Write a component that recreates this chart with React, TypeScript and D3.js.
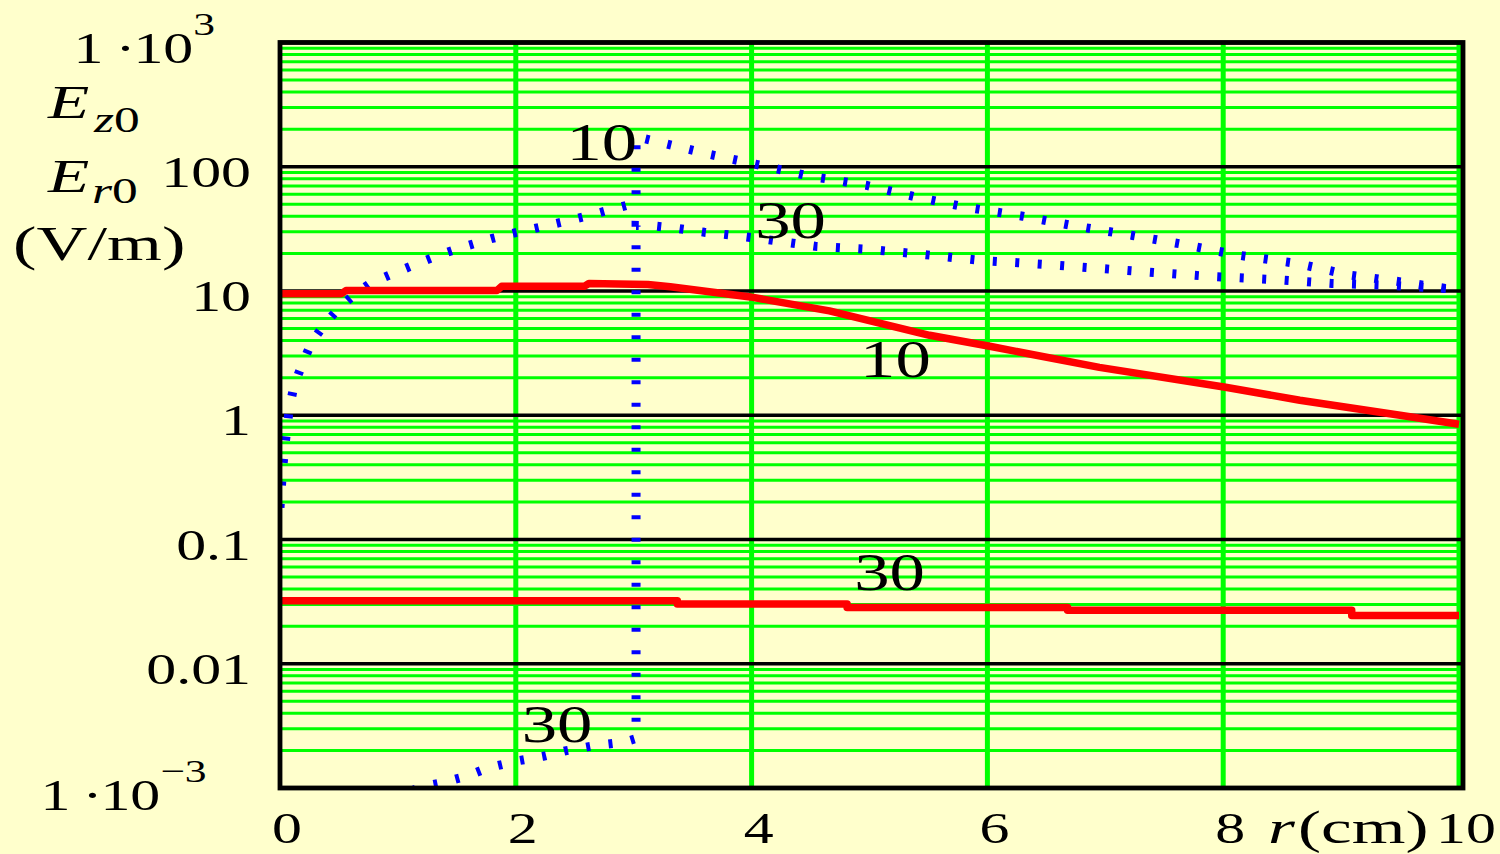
import React from "react";
import * as d3 from "d3";

const W = 1500;
const H = 854;

// Field amplitude (V/m) versus radius r (cm)
// dotted curves, case 10 and case 30
const dotted10: [number, number][] = [
  [0, 0.18], [0.02, 0.35], [0.04, 0.55], [0.06, 0.8], [0.08, 1.15], [0.12, 1.75],
  [0.19, 2.6], [0.27, 3.9], [0.39, 5.6], [0.52, 7.6], [0.645, 9.6], [0.77, 11.6],
  [0.98, 14.1], [1.19, 17.0], [1.37, 19.8], [1.58, 23], [1.8, 26.5], [2.0, 29.5],
  [2.2, 32.5], [2.4, 36], [2.6, 40], [2.8, 45], [2.98, 50], [3.02, 52],
  [3.02, 175], [3.26, 154], [3.64, 126], [4.07, 103], [4.49, 84], [4.97, 71],
  [5.4, 57], [5.83, 47], [6.3, 40], [6.73, 33.5], [7.23, 28], [7.63, 24],
  [8.13, 19.4], [8.62, 16.7], [9.08, 13.4], [9.52, 11.8], [10, 10.1],
];

const dotted30: [number, number][] = [
  [1.12, 0.00095], [1.2, 0.00102], [1.37, 0.0011], [1.59, 0.00125], [1.76, 0.00145],
  [2.01, 0.00165], [2.23, 0.0018], [2.43, 0.002], [2.65, 0.00218], [2.92, 0.00234],
  [3.02, 0.0025], [3.02, 33.7], [3.16, 33.5], [3.37, 31.9], [3.6, 29.7], [3.85, 28],
  [4.11, 26.1], [4.54, 22.9], [5.0, 21.6], [5.45, 19.7], [5.95, 17.6], [6.47, 16.4],
  [6.95, 15.2], [7.41, 14.1], [7.89, 13.1], [8.41, 12.4], [8.92, 11.5], [9.43, 11.1],
  [10, 10.3],
];

// solid curves, case 10 and case 30
const solid10: [number, number][] = [
  [0, 9.5], [0.52, 9.5], [0.56, 10.1], [1.84, 10.1], [1.88, 10.9], [2.58, 10.9],
  [2.62, 11.5], [3.12, 11.3], [3.31, 10.8], [3.99, 8.96], [4.66, 6.92], [5.51, 4.4],
  [6.02, 3.59], [6.95, 2.43], [8.02, 1.68], [8.65, 1.32], [9.5, 1.0], [10, 0.846],
];

const solid30: [number, number][] = [
  [0, 0.0322], [3.37, 0.0302], [4.81, 0.0283], [6.68, 0.027], [9.09, 0.0244], [10, 0.0244],
];

// Axis ticks
const xTicks = [0, 2, 4, 6, 8, 10];
const xTickLabels = ["0", "2", "4", "6", "8", "10"];
const yDecades = [1e-3, 1e-2, 1e-1, 1, 10, 100, 1e3];
const yTickLabels = ["", "0.01", "0.1", "1", "10", "100", ""];

// Curve annotations: [text, r at left edge, value at baseline]
const curveTags: [string, number, number][] = [
  ["10", 2.43, 113],
  ["30", 4.03, 26.7],
  ["10", 4.92, 2.03],
  ["30", 4.87, 0.0393],
  ["30", 2.05, 0.00234],
];

const FONT = "'Liberation Serif', 'Times New Roman', serif";
const SX_NUM = 1.36;
const SX_TXT = 1.47;
const BG = "#FFFFCC";
const GREEN = "#00FF00";

const PL = 280;
const PR = 1463;
const PT = 42.5;
const PB = 788;

const x = d3.scaleLinear().domain([0, 10]).range([PL, 1459]);
const y = d3.scaleLog().domain([1e-3, 1e3]).range([PB, PT]);

const line = d3
  .line<[number, number]>()
  .x((d) => x(d[0]))
  .y((d) => y(d[1]));

const stepLine = d3
  .line<[number, number]>()
  .x((d) => x(d[0]))
  .y((d) => y(d[1]))
  .curve(d3.curveStepAfter);

type TxtProps = {
  x: number;
  y: number;
  size: number;
  sx?: number;
  anchor?: "start" | "middle" | "end";
  italic?: boolean;
  children: React.ReactNode;
};

function Txt({ x, y, size, sx = SX_NUM, anchor = "start", italic, children }: TxtProps) {
  return (
    <text
      transform={`translate(${x},${y}) scale(${sx},1)`}
      fontSize={size}
      fontFamily={FONT}
      fontStyle={italic ? "italic" : "normal"}
      textAnchor={anchor}
      fill="#000"
    >
      {children}
    </text>
  );
}

// "1 · 10" followed by a raised exponent, as one text run
function PowerLabel({ x0, y0, exp }: { x0: number; y0: number; exp: string }) {
  return (
    <Txt x={x0} y={y0} size={44}>
      1<tspan dx={8.9}>·</tspan>
      <tspan dx={-1.5}>10</tspan>
      <tspan dy={-28} fontSize={32}>{exp}</tspan>
    </Txt>
  );
}

export default function App() {
  const minor: number[] = [];
  for (let e = -3; e < 3; e++) {
    for (let m = 2; m <= 9; m++) minor.push(m * Math.pow(10, e));
  }

  return (
    <svg
      width={W}
      height={H}
      viewBox={`0 0 ${W} ${H}`}
      style={{ position: "absolute", left: 0, top: 0, display: "block" }}
    >
      <defs>
        <clipPath id="plotClip">
          <rect x={PL} y={PT} width={PR - PL} height={PB - PT} />
        </clipPath>
      </defs>
      <rect x={0} y={0} width={W} height={H} fill={BG} />

      {/* grid */}
      <g>
        {minor.map((v, i) => (
          <line key={"m" + i} x1={PL} x2={PR} y1={y(v)} y2={y(v)} stroke={GREEN} strokeWidth={3} />
        ))}
        {xTicks.slice(1).map((v, i) => (
          <line key={"v" + i} x1={x(v)} x2={x(v)} y1={PT} y2={PB} stroke={GREEN} strokeWidth={5} />
        ))}
        {yDecades.map((v, i) => (
          <line key={"d" + i} x1={PL} x2={PR} y1={y(v)} y2={y(v)} stroke="#000" strokeWidth={3.3} />
        ))}
      </g>

      {/* curves */}
      <g clipPath="url(#plotClip)">
        <path d={line(dotted10) || ""} fill="none" stroke="#0000FF" strokeWidth={9} strokeDasharray="4 18.5" />
        <path d={line(dotted30) || ""} fill="none" stroke="#0000FF" strokeWidth={9} strokeDasharray="4 18.5" />
        <path d={line(solid10) || ""} fill="none" stroke="#FF0000" strokeWidth={7.5} strokeLinejoin="round" />
        <path d={stepLine(solid30) || ""} fill="none" stroke="#FF0000" strokeWidth={7.5} strokeLinejoin="round" />
      </g>

      {/* frame */}
      <rect x={PL} y={PT} width={PR - PL} height={PB - PT} fill="none" stroke="#000" strokeWidth={4.8} />

      {/* curve tags */}
      {curveTags.map(([t, r, v], i) => (
        <Txt key={"t" + i} x={x(r)} y={y(v)} size={52}>
          {t}
        </Txt>
      ))}

      {/* y tick labels */}
      {yDecades.map((v, i) =>
        yTickLabels[i] ? (
          <Txt key={"y" + i} x={251} y={y(v) + 20} size={44} anchor="end">
            {yTickLabels[i]}
          </Txt>
        ) : null
      )}
      <PowerLabel x0={73.5} y0={63} exp="3" />
      <PowerLabel x0={40.5} y0={810} exp="−3" />

      {/* x tick labels */}
      {xTicks.map((v, i) => (
        <Txt key={"x" + i} x={x(v) + 7} y={843} size={44} anchor="middle">
          {xTickLabels[i]}
        </Txt>
      ))}
      <Txt x={1268} y={843} size={47} sx={SX_TXT} italic>r</Txt>
      <Txt x={1298} y={843} size={47} sx={SX_TXT}>(cm)</Txt>

      {/* y axis title */}
      <Txt x={48} y={118} size={46} sx={SX_TXT} italic>E</Txt>
      <Txt x={94} y={132} size={35} sx={SX_TXT}>
        <tspan fontStyle="italic">z</tspan>0
      </Txt>
      <Txt x={48} y={192} size={46} sx={SX_TXT} italic>E</Txt>
      <Txt x={92} y={203} size={35} sx={SX_TXT}>
        <tspan fontStyle="italic">r</tspan>0
      </Txt>
      <Txt x={13} y={260} size={48} sx={SX_TXT}>(V/m)</Txt>
    </svg>
  );
}
